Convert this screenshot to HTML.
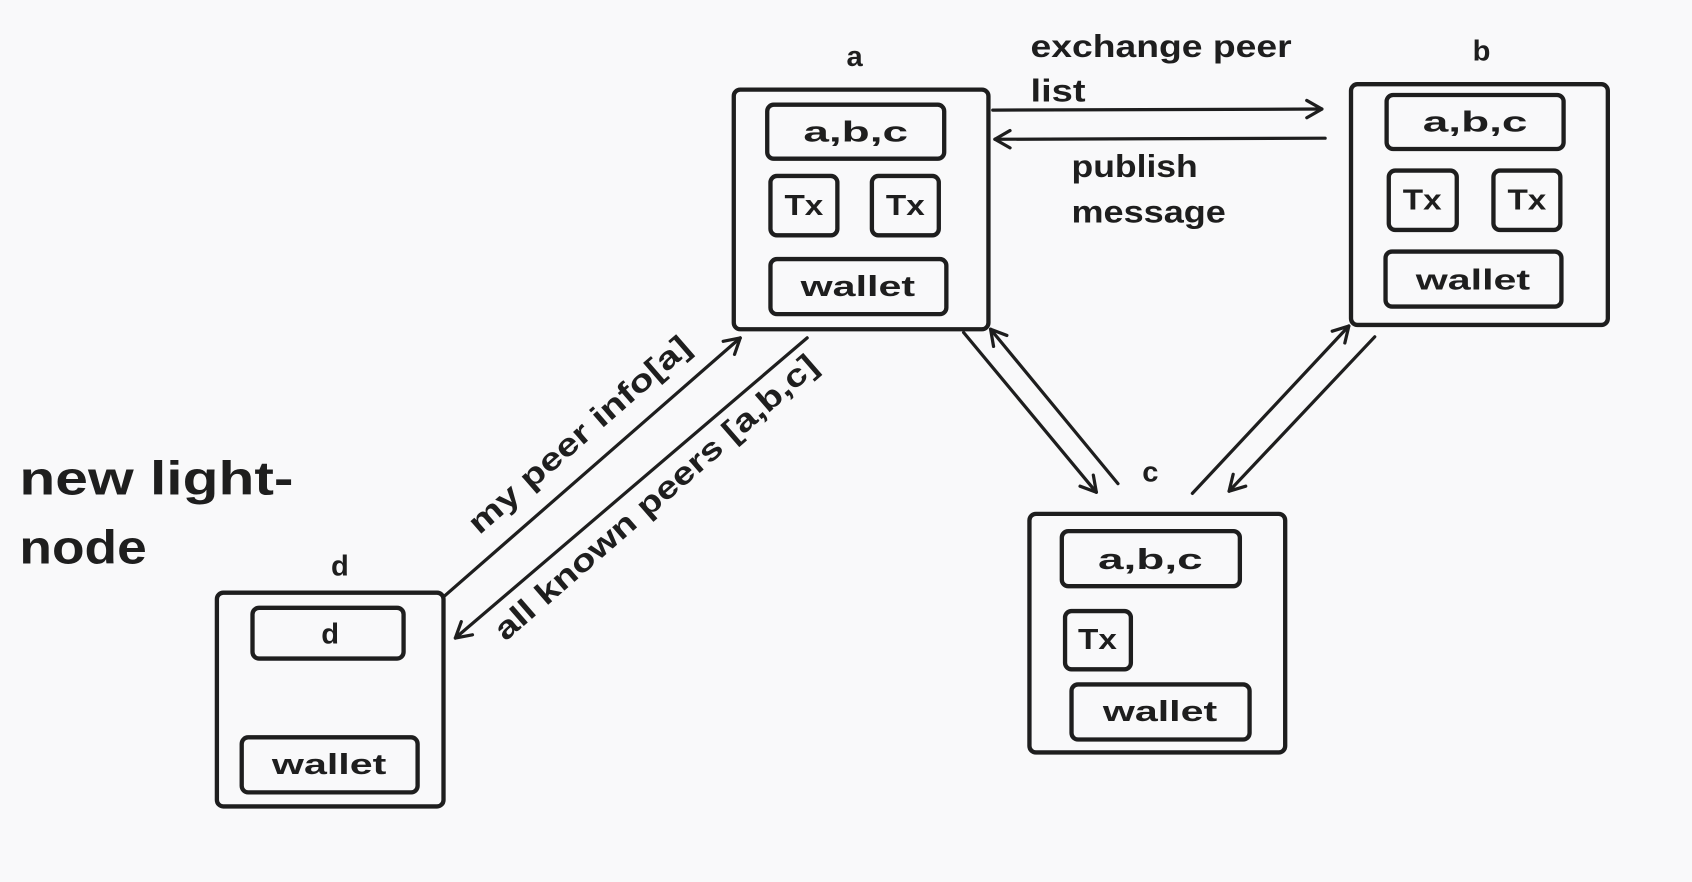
<!DOCTYPE html>
<html><head><meta charset="utf-8"><style>
html,body{margin:0;padding:0;background:#f9f9fa;}
svg{display:block}
text{font-family:"Liberation Sans","DejaVu Sans",sans-serif;fill:#1e1e1e;font-weight:bold}
</style></head><body>
<svg width="1692" height="882" viewBox="0 0 1568 817" preserveAspectRatio="none">
<defs>
<marker id="ah" markerWidth="20" markerHeight="20" refX="16" refY="10" orient="auto" markerUnits="userSpaceOnUse">
<path d="M2,2 L16,10 L2,18" fill="none" stroke="#1e1e1e" stroke-width="3" stroke-linecap="round" stroke-linejoin="round"/>
</marker>
</defs>
<rect width="1568" height="817" fill="#f9f9fa"/>
<g fill="none" stroke="#1e1e1e" stroke-width="4">
<rect x="680" y="83" width="236" height="222" rx="6"/>
<rect x="711" y="97" width="164" height="50" rx="6"/>
<rect x="714" y="163" width="62" height="55" rx="6"/>
<rect x="808" y="163" width="62" height="55" rx="6"/>
<rect x="714" y="240" width="163" height="51" rx="6"/>
<rect x="1252" y="78" width="238" height="223" rx="6"/>
<rect x="1285" y="88" width="164" height="50" rx="6"/>
<rect x="1287" y="158" width="63" height="55" rx="6"/>
<rect x="1384" y="158" width="62" height="55" rx="6"/>
<rect x="1284" y="233" width="163" height="51" rx="6"/>
<rect x="954" y="476" width="237" height="221" rx="6"/>
<rect x="984" y="492" width="165" height="51" rx="6"/>
<rect x="987" y="566" width="61" height="54" rx="6"/>
<rect x="993" y="634" width="165" height="51" rx="6"/>
<rect x="201" y="549" width="210" height="198" rx="6"/>
<rect x="234" y="563" width="140" height="47" rx="6"/>
<rect x="224" y="683" width="163" height="51" rx="6"/>
</g>
<g fill="none" stroke="#1e1e1e" stroke-width="3" stroke-linecap="round">
<line x1="920" y1="102" x2="1225" y2="101" marker-end="url(#ah)"/>
<line x1="1228" y1="128" x2="922" y2="129" marker-end="url(#ah)"/>
<line x1="412" y1="552" x2="686" y2="313" marker-end="url(#ah)"/>
<line x1="748" y1="313" x2="422" y2="591" marker-end="url(#ah)"/>
<line x1="893" y1="308" x2="1016" y2="456" marker-end="url(#ah)"/>
<line x1="1036" y1="448" x2="918" y2="305" marker-end="url(#ah)"/>
<line x1="1105" y1="457" x2="1250" y2="302" marker-end="url(#ah)"/>
<line x1="1274" y1="312" x2="1139" y2="455" marker-end="url(#ah)"/>
</g>
<g font-size="27" text-anchor="middle" lengthAdjust="spacingAndGlyphs">
<text x="792" y="61">a</text>
<text x="1373" y="56">b</text>
<text x="1066" y="446">c</text>
<text x="315" y="533">d</text>
<text x="793" y="131" textLength="97" lengthAdjust="spacingAndGlyphs">a,b,c</text>
<text x="745" y="199" textLength="36" lengthAdjust="spacingAndGlyphs">Tx</text>
<text x="839" y="199" textLength="36" lengthAdjust="spacingAndGlyphs">Tx</text>
<text x="795" y="274" textLength="106" lengthAdjust="spacingAndGlyphs">wallet</text>
<text x="1367" y="122" textLength="97" lengthAdjust="spacingAndGlyphs">a,b,c</text>
<text x="1318" y="194" textLength="36" lengthAdjust="spacingAndGlyphs">Tx</text>
<text x="1415" y="194" textLength="36" lengthAdjust="spacingAndGlyphs">Tx</text>
<text x="1365" y="268" textLength="106" lengthAdjust="spacingAndGlyphs">wallet</text>
<text x="1066" y="527" textLength="97" lengthAdjust="spacingAndGlyphs">a,b,c</text>
<text x="1017" y="601" textLength="36" lengthAdjust="spacingAndGlyphs">Tx</text>
<text x="1075" y="668" textLength="106" lengthAdjust="spacingAndGlyphs">wallet</text>
<text x="306" y="596">d</text>
<text x="305" y="717" textLength="106" lengthAdjust="spacingAndGlyphs">wallet</text>
</g>
<g font-size="29">
<text x="955" y="53" textLength="242" lengthAdjust="spacingAndGlyphs">exchange peer</text>
<text x="955" y="94" textLength="51" lengthAdjust="spacingAndGlyphs">list</text>
<text x="993" y="164" textLength="117" lengthAdjust="spacingAndGlyphs">publish</text>
<text x="993" y="206" textLength="143" lengthAdjust="spacingAndGlyphs">message</text>
<text transform="translate(543,410) rotate(-41)" text-anchor="middle" textLength="262" lengthAdjust="spacingAndGlyphs">my peer info[a]</text>
<text transform="translate(614,468) rotate(-41)" text-anchor="middle" textLength="386" lengthAdjust="spacingAndGlyphs">all known peers [a,b,c]</text>
</g>
<g font-size="44">
<text x="18" y="458" textLength="254" lengthAdjust="spacingAndGlyphs">new light-</text>
<text x="18" y="522" textLength="118" lengthAdjust="spacingAndGlyphs">node</text>
</g>
</svg>
</body></html>
